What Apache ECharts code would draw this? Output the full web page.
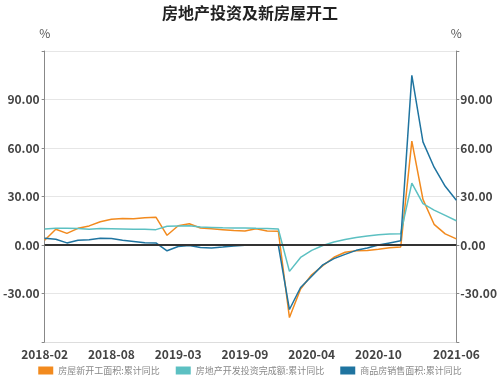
<!DOCTYPE html>
<html>
<head>
<meta charset="utf-8">
<script src="https://cdn.jsdelivr.net/npm/echarts@6/dist/echarts.min.js"></script>
<style>html,body{margin:0;padding:0;background:#fff}#c{width:500px;height:388px}</style>
</head>
<body>
<div id="c"></div>
<script>
var categories = ['2018-02','2018-03','2018-04','2018-05','2018-06','2018-07','2018-08','2018-09','2018-10','2018-11','2018-12',
'2019-02','2019-03','2019-04','2019-05','2019-06','2019-07','2019-08','2019-09','2019-10','2019-11','2019-12',
'2020-02','2020-03','2020-04','2020-05','2020-06','2020-07','2020-08','2020-09','2020-10','2020-11','2020-12',
'2021-02','2021-03','2021-04','2021-05','2021-06'];
var newStarts = [2.9, 9.7, 7.2, 10.3, 11.8, 14.4, 15.9, 16.4, 16.3, 16.8, 17.2,
 6.0, 11.9, 13.1, 10.5, 10.1, 9.5, 8.9, 8.6, 10.0, 8.6, 8.5,
 -44.9, -27.2, -18.4, -12.8, -7.6, -4.5, -3.6, -3.4, -2.7, -1.7, -1.2,
 64.3, 28.2, 12.8, 6.9, 3.8];
var investment = [9.9, 10.4, 10.3, 10.2, 9.7, 10.2, 10.1, 9.9, 9.7, 9.7, 9.5,
 11.6, 11.8, 11.9, 11.2, 10.9, 10.6, 10.5, 10.5, 10.3, 10.2, 9.9,
 -16.3, -7.7, -3.3, -0.3, 1.9, 3.4, 4.6, 5.6, 6.3, 6.8, 7.0,
 38.3, 25.6, 21.6, 18.3, 15.0];
var salesArea = [4.1, 3.6, 1.3, 2.9, 3.3, 4.2, 4.0, 2.9, 2.2, 1.4, 1.3,
 -3.6, -0.9, -0.3, -1.6, -1.8, -1.3, -0.6, -0.1, 0.1, 0.2, -0.1,
 -39.9, -26.3, -19.3, -12.3, -8.4, -5.8, -3.3, -1.8, 0.0, 1.3, 2.6,
 104.9, 63.8, 48.1, 36.3, 27.7];
var seriesNames = ['房屋新开工面积:累计同比','房地产开发投资完成额:累计同比','商品房销售面积:累计同比'];
var colors = ['#F28A1E','#5CC0C2','#1F74A0'];
var shownLabels = ['2018-02','2018-08','2019-03','2019-09','2020-04','2020-10','2021-06'];

var font = '"Noto Sans CJK SC","Noto Sans",sans-serif';
var chart = echarts.init(document.getElementById('c'));
var yAxisCommon = {
  type: 'value', min: -60, max: 120, interval: 30,
  name: '%', nameGap: 12,
  nameTextStyle: {color: '#555', fontSize: 12, fontFamily: font, align: 'center'},
  axisLine: {show: true, lineStyle: {color: '#888', width: 1}},
  axisTick: {show: true, length: 3, lineStyle: {color: '#888'}},
  splitLine: {show: true, lineStyle: {color: '#e6e6e6'}},
  axisLabel: {
    color: '#444', fontSize: 12, fontWeight: 'bold', fontFamily: font, margin: 5,
    formatter: function (v) { return (v === 120 || v === -60) ? '' : v.toFixed(2); }
  }
};
function mkSeries(i, data) {
  return {
    name: seriesNames[i], type: 'line', data: data, symbol: 'none',
    lineStyle: {width: 1.5, color: colors[i]}, itemStyle: {color: colors[i]}, z: 3
  };
}
var series = [mkSeries(0, newStarts), mkSeries(1, investment), mkSeries(2, salesArea)];
series.push({
  type: 'line', data: [], silent: true, z: 2,
  markLine: {
    silent: true, symbol: ['none','none'], label: {show: false},
    lineStyle: {color: '#333', width: 2, type: 'solid'},
    data: [{yAxis: 0}]
  }
});
chart.setOption({
  animation: false,
  title: {
    text: '房地产投资及新房屋开工', left: 'center', top: 0,
    textStyle: {fontSize: 16, fontWeight: 'bold', color: '#222', fontFamily: font}
  },
  legend: {
    bottom: 8, left: 'center', itemWidth: 15, itemHeight: 8, itemGap: 16,
    icon: 'rect', data: seriesNames,
    textStyle: {color: '#888', fontSize: 9, fontFamily: font}
  },
  grid: {left: 42, right: 39, top: 51, bottom: 46, containLabel: false},
  xAxis: {
    type: 'category', data: categories, boundaryGap: false,
    axisLine: {onZero: false, lineStyle: {color: '#ddd'}},
    axisTick: {show: false},
    splitLine: {show: false},
    axisLabel: {
      color: '#444', fontSize: 12, fontWeight: 'bold', fontFamily: font, margin: 6,
      interval: function (idx, val) { return shownLabels.indexOf(val) >= 0; },
      showMaxLabel: true
    }
  },
  yAxis: [
    Object.assign({}, yAxisCommon, {position: 'left'}),
    Object.assign({}, yAxisCommon, {position: 'right',
      axisLabel: Object.assign({}, yAxisCommon.axisLabel, {margin: 4})})
  ],
  series: series
});
</script>
</body>
</html>
